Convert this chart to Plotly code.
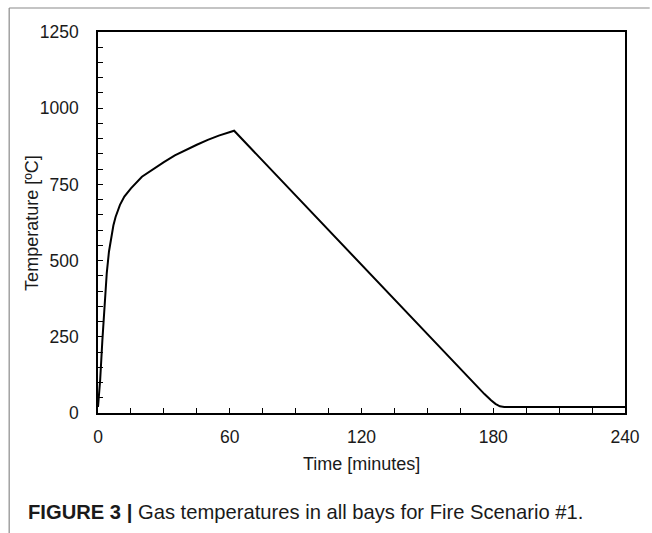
import plotly.graph_objects as go

# Data
time_min = [0, 1, 2, 3, 4, 5, 6, 7, 8, 10, 12, 15, 20, 25, 30, 35, 40, 45, 50, 55, 62,
            120, 170, 176, 179, 181, 183, 185, 240]
temp_c = [20, 110, 240, 365, 460, 530, 580, 615, 643, 683, 710, 737, 775, 800, 823, 845, 863, 880, 896, 910, 926,
          485, 105, 62, 42, 30, 22, 20, 20]

x_tickvals = [0, 60, 120, 180, 240]
y_tickvals = [0, 250, 500, 750, 1000, 1250]

W, H = 652, 533
L, R, T, B = 98, 20, 32, 120
PW, PH = W - L - R, H - T - B

def px(xp):
    return (xp - L) / PW

def py(yp):
    return (H - B - yp) / PH

font_family = "Liberation Sans, Arial, sans-serif"
txt = "#1a1a1a"

fig = go.Figure()
fig.add_trace(go.Scatter(x=time_min, y=temp_c, mode="lines",
                         line=dict(color="black", width=2), showlegend=False,
                         hoverinfo="x+y"))

fig.update_layout(
    width=W, height=H,
    margin=dict(l=L, r=R, t=T, b=B, pad=0),
    paper_bgcolor="white", plot_bgcolor="white",
    font=dict(family=font_family, size=17.5, color=txt),
    xaxis=dict(
        range=[0, 240], tickvals=x_tickvals, ticktext=[str(v) for v in x_tickvals],
        showline=True, linecolor="black", linewidth=1.5, mirror=True,
        ticks="inside", ticklen=5, tickcolor="black", tickwidth=1,
        minor=dict(dtick=15, ticks="inside", ticklen=5, tickcolor="black", tickwidth=1),
        showgrid=False, zeroline=False, ticklabelstandoff=7,
    ),
    yaxis=dict(
        range=[0, 1250], tickvals=y_tickvals, ticktext=[str(v) for v in y_tickvals],
        showline=True, linecolor="black", linewidth=1.5, mirror=True,
        ticks="inside", ticklen=5, tickcolor="black", tickwidth=1,
        minor=dict(dtick=50, ticks="inside", ticklen=5, tickcolor="black", tickwidth=1),
        showgrid=False, zeroline=False, ticklabelstandoff=14,
    ),
    shapes=[
        dict(type="line", xref="paper", yref="paper",
             x0=px(8), x1=px(W + 5), y0=py(8), y1=py(8),
             line=dict(color="#8a8a8a", width=1.2)),
        dict(type="line", xref="paper", yref="paper",
             x0=px(8), x1=px(8), y0=py(8), y1=py(H + 5),
             line=dict(color="#8a8a8a", width=1.2)),
    ],
    annotations=[
        dict(text="Time [minutes]", xref="paper", yref="paper",
             x=px(365), y=py(464), xanchor="center", yanchor="middle",
             showarrow=False, font=dict(family=font_family, size=18, color=txt)),
        dict(text="Temperature [ºC]", xref="paper", yref="paper",
             x=px(31), y=py(223), xanchor="center", yanchor="middle", textangle=-90,
             showarrow=False, font=dict(family=font_family, size=18, color=txt)),
        dict(text="<b>FIGURE 3 |</b> Gas temperatures in all bays for Fire Scenario #1.",
             xref="paper", yref="paper", x=px(25), y=py(512),
             xanchor="left", yanchor="middle", showarrow=False,
             font=dict(family=font_family, size=20.2, color=txt)),
    ],
)

fig.write_html("out.html")
